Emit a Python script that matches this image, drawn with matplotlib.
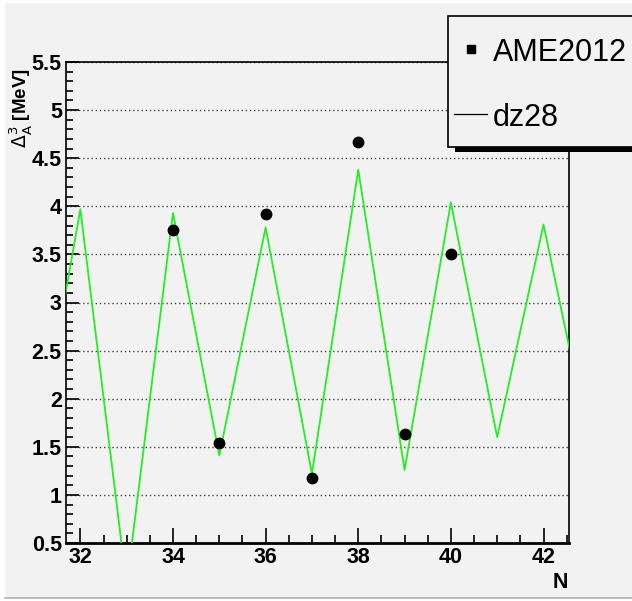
import matplotlib.pyplot as plt
from matplotlib.patches import Rectangle
from matplotlib.lines import Line2D
from matplotlib.ticker import MultipleLocator, FormatStrFormatter

plt.rcParams['font.family'] = ['Liberation Sans', 'DejaVu Sans']

# three-point mass difference: AME2012 data vs dz28 model
n_exp = [34, 35, 36, 37, 38, 39, 40]
d3_exp = [3.75, 1.54, 3.92, 1.18, 4.67, 1.63, 3.50]

n_model = [31, 32, 33, 34, 35, 36, 37, 38, 39, 40, 41, 42, 43]
d3_dz28 = [1.24, 3.97, 0.06, 3.93, 1.41, 3.78, 1.22, 4.38, 1.26, 4.04, 1.60, 3.81, 1.51]

bg = '#f2f2f2'
fig = plt.figure(figsize=(6.32, 6.01), dpi=100, facecolor='white')
# canvas pad
fig.patches.append(Rectangle((5/632, 3/601), 627/632, 595/601, transform=fig.transFigure,
                             facecolor=bg, edgecolor='none', zorder=-10))
fig.lines.append(Line2D([5/632, 1], [3/601, 3/601], transform=fig.transFigure,
                        color='#b0b0b0', lw=1.2))

ax = fig.add_axes([66/632, 58/601, 503/632, 481/601])
ax.set_facecolor(bg)

ax.plot(n_model, d3_dz28, color='#22ee22', lw=1.3, zorder=3)
ax.plot(n_exp, d3_exp, 'o', color='black', ms=7.5, zorder=4)

ax.set_xlim(31.69, 42.55)
ax.set_ylim(0.5, 5.5)

ax.xaxis.set_major_locator(MultipleLocator(2))
ax.xaxis.set_minor_locator(MultipleLocator(0.5))
ax.yaxis.set_major_locator(MultipleLocator(0.5))
ax.yaxis.set_minor_locator(MultipleLocator(0.1))
ax.yaxis.set_major_formatter(FormatStrFormatter('%g'))

ax.tick_params(axis='x', which='major', direction='in', length=11, width=1.2,
               top=False, labelsize=15.5, pad=3)
ax.tick_params(axis='x', which='minor', direction='in', length=5.5, width=1.2, top=False)
ax.tick_params(axis='y', which='major', direction='in', length=9.5, width=1.2,
               right=False, labelsize=15.5, pad=3)
ax.tick_params(axis='y', which='minor', direction='in', length=5, width=1.2, right=False)
for lab in ax.get_xticklabels() + ax.get_yticklabels():
    lab.set_fontweight('bold')

ax.yaxis.grid(True, which='major', linestyle=(0, (1, 2)), color='#444444', lw=1.0)
ax.set_axisbelow(True)

for s in ax.spines.values():
    s.set_linewidth(1.2)
ax.spines['bottom'].set_linewidth(2)

fig.text(20/632, 1 - 108/601, r'$\Delta_{\mathrm{A}}^{3}$ [MeV]', rotation=90, ha='center',
         va='center', fontsize=13.5, fontweight='bold')
fig.text(560/632, 1 - 583/601, 'N', ha='center', va='center', fontsize=15.5,
         fontweight='bold')

# legend box with shadow
lx0, ly0, lx1, ly1 = 448, 16, 640, 147
fig.patches.append(Rectangle((455/632, 1 - 152/601), (lx1 - 455)/632, 6/601,
                             transform=fig.transFigure, facecolor='black',
                             edgecolor='none', zorder=5))
fig.patches.append(Rectangle((lx0/632, 1 - ly1/601), (lx1 - lx0)/632, (ly1 - ly0)/601,
                             transform=fig.transFigure, facecolor=bg,
                             edgecolor='black', lw=1.2, zorder=6))
fig.lines.append(Line2D([471/632], [1 - 49/601], transform=fig.transFigure, marker='s',
                        ms=6, color='black', ls='none', zorder=7))
fig.text(493/632, 1 - 53/601, 'AME2012', ha='left', va='center', fontsize=22, zorder=7)
fig.lines.append(Line2D([454/632, 487/632], [1 - 114/601, 1 - 114/601],
                        transform=fig.transFigure, color='black', lw=0.9, zorder=7))
fig.text(493/632, 1 - 118/601, 'dz28', ha='left', va='center', fontsize=22, zorder=7)

fig.savefig('out.png', dpi=100, facecolor='white')
